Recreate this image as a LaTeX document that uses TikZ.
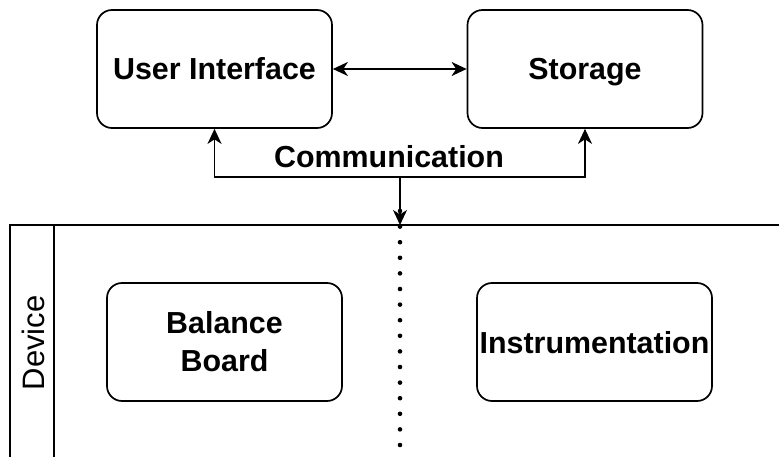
\documentclass[tikz,border=0pt]{standalone}
\usepackage{fontspec}
\setmainfont{Liberation Sans}
\usetikzlibrary{arrows.meta}

\tikzset{
  tip/.tip={Stealth[length=15pt, width=14pt, inset=4.5pt]},
  box/.style={draw, line width=1.7pt, rounded corners=15pt, minimum width=235pt,
              minimum height=118pt, inner sep=0pt, align=center, text=black},
  lbl/.style={font=\fontsize{30.4}{38}\selectfont\bfseries, text=black},
  onel/.style={text height=22pt, text depth=0pt},
  wire/.style={line width=1.7pt},
  arr/.style={wire, -tip},
  darr/.style={wire, tip-tip}
}

\begin{document}
\begin{tikzpicture}[x=1pt, y=-1pt]
  \useasboundingbox (0,0) rectangle (779,457);

  % upper tier
  \node[box, lbl, onel] (ui) at (214.5,69) {User Interface};
  \node[box, lbl, onel] (st) at (585,69) {Storage};
  \draw[darr] (ui.east) -- (st.west);

  % communication bus
  \node[lbl, onel] (comm) at (389,157) {Communication};
  \coordinate (hub) at (400,177);
  \coordinate (devtop) at (400,225);
  \draw[arr] (hub) -| (ui.south);
  \draw[arr] (hub) -| (st.south);
  \draw[arr] (hub) -- (devtop);

  % device lane
  \coordinate (laneTL) at (10,225);
  \coordinate (laneTR) at (779,225);
  \coordinate (laneBL) at (10,457);
  \coordinate (headT) at (54,225);
  \coordinate (headB) at (54,457);
  \draw[wire] (laneTR) -- (laneTL) -- (laneBL);
  \draw[wire] (headT) -- (headB);
  \node[font=\fontsize{31}{38}\selectfont, text=black, rotate=90,
        text height=22pt, text depth=0pt] (dev) at (33,343) {Device};

  % divider
  \coordinate (divB) at (400,457);
  \draw[line width=4.6pt, line cap=round, dash pattern=on 0pt off 15.6pt]
    ([yshift=14pt]devtop) -- (divB);

  % device components
  \node[box, lbl] (bb) at (224.5,342) {Balance\\Board};
  \node[box, lbl, onel] (inst) at (594.5,342) {Instrumentation};
\end{tikzpicture}
\end{document}
